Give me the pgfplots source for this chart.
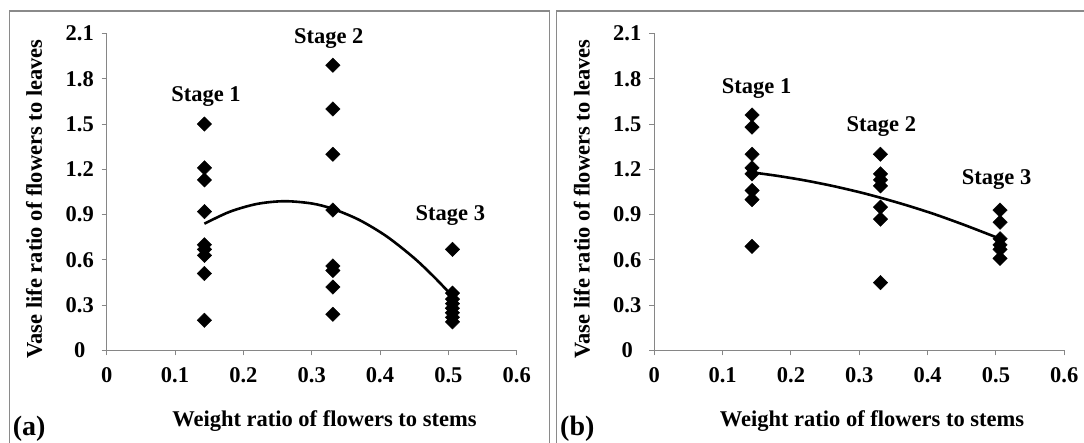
\documentclass[border=0pt]{standalone}
\usepackage{pgfplots}
\pgfplotsset{compat=1.18}
\usepackage{fontspec}
\setmainfont{Liberation Serif}

\definecolor{axisgray}{HTML}{868686}
\definecolor{framegray}{HTML}{8A8A8A}

\newcommand{\lblfont}{\fontsize{22.5}{26}\selectfont\bfseries}

\pgfplotsset{
  stagepanel/.style={
    scale only axis, width=410pt, height=317pt,
    xmin=0, xmax=0.6, ymin=0, ymax=2.1,
    clip=false,
    axis x line*=bottom, axis y line*=left,
    axis line style={axisgray, line width=1pt, -},
    tick style={axisgray, line width=1pt},
    major tick length=5pt, tick align=outside,
    xtick={0,0.1,0.2,0.3,0.4,0.5,0.6},
    xticklabels={0,0.1,0.2,0.3,0.4,0.5,0.6},
    ytick={0,0.3,0.6,0.9,1.2,1.5,1.8,2.1},
    yticklabels={0,0.3,0.6,0.9,1.2,1.5,1.8,2.1},
    every tick label/.append style={font=\lblfont, text=black},
    yticklabel style={anchor=center, xshift=-22pt},
    xticklabel style={yshift=-9pt},
    every axis x label/.style={at={(axis description cs:0.531,0)}, anchor=base, yshift=-76pt, font=\lblfont},
    every axis y label/.style={at={(axis description cs:-0.158,0.478)}, rotate=90, anchor=base, font=\lblfont},
    xlabel={Weight ratio of flowers to stems},
    ylabel={Vase life ratio of flowers to leaves},
  },
  diamonds/.style={only marks, mark=square*, mark size=5.1pt,
    mark options={rotate=45, fill=black, draw=black}},
  trend/.style={no marks, black, line width=2.6pt, smooth},
}

\begin{document}
\begin{tikzpicture}
\useasboundingbox (0,0) rectangle (1084pt,443pt);
\clip (0,0) rectangle (1084pt,443pt);

% panel frames
\draw[framegray, line width=1.3pt] (9.5pt,-10pt) -- (9.5pt,432pt) -- (549.3pt,432pt) -- (549.3pt,-10pt);
\draw[framegray, line width=1.3pt] (556.7pt,-10pt) -- (556.7pt,432pt) -- (1100pt,432pt);

% (a) flowers to leaves vs flowers to stems
\begin{axis}[stagepanel, at={(106.7pt,92.5pt)}, anchor=south west]
\addplot[diamonds] table {
x y
0.143 1.50
0.143 1.21
0.143 1.13
0.143 0.92
0.143 0.70
0.143 0.67
0.143 0.63
0.143 0.51
0.143 0.20
0.331 1.89
0.331 1.60
0.331 1.30
0.331 0.93
0.331 0.56
0.331 0.53
0.331 0.42
0.331 0.24
0.506 0.67
0.506 0.38
0.506 0.34
0.506 0.31
0.506 0.28
0.506 0.25
0.506 0.22
0.506 0.19
};
\addplot[trend] coordinates {
(0.143,0.840) (0.18,0.919) (0.22,0.971) (0.26,0.989) (0.30,0.974)
(0.331,0.938) (0.37,0.864) (0.41,0.755) (0.45,0.612) (0.48,0.483) (0.506,0.360)
};
\node[anchor=base, font=\lblfont] at (axis cs:0.1453,1.65) {Stage 1};
\node[anchor=base, font=\lblfont] at (axis cs:0.325,2.035) {Stage 2};
\node[anchor=base, font=\lblfont] at (axis cs:0.503,0.86) {Stage 3};
\end{axis}

% (b)
\begin{axis}[stagepanel, at={(654.3pt,92.5pt)}, anchor=south west]
\addplot[diamonds] table {
x y
0.143 1.56
0.143 1.48
0.143 1.30
0.143 1.21
0.143 1.17
0.143 1.06
0.143 1.00
0.143 0.69
0.331 1.30
0.331 1.17
0.331 1.13
0.331 1.09
0.331 0.95
0.331 0.87
0.331 0.45
0.506 0.93
0.506 0.85
0.506 0.74
0.506 0.70
0.506 0.67
0.506 0.61
};
\addplot[trend] coordinates {
(0.143,1.180) (0.18,1.157) (0.22,1.127) (0.26,1.091) (0.30,1.049)
(0.331,1.012) (0.37,0.961) (0.41,0.903) (0.45,0.838) (0.48,0.786) (0.506,0.740)
};
\node[anchor=base, font=\lblfont] at (axis cs:0.1497,1.70) {Stage 1};
\node[anchor=base, font=\lblfont] at (axis cs:0.3323,1.45) {Stage 2};
\node[anchor=base, font=\lblfont] at (axis cs:0.501,1.10) {Stage 3};
\end{axis}

\node[anchor=base west, inner sep=0pt, font=\fontsize{28}{32}\selectfont\bfseries] at (12.7pt,7.5pt) {(a)};
\node[anchor=base west, inner sep=0pt, font=\fontsize{28}{32}\selectfont\bfseries] at (560pt,7.5pt) {(b)};
\end{tikzpicture}
\end{document}
